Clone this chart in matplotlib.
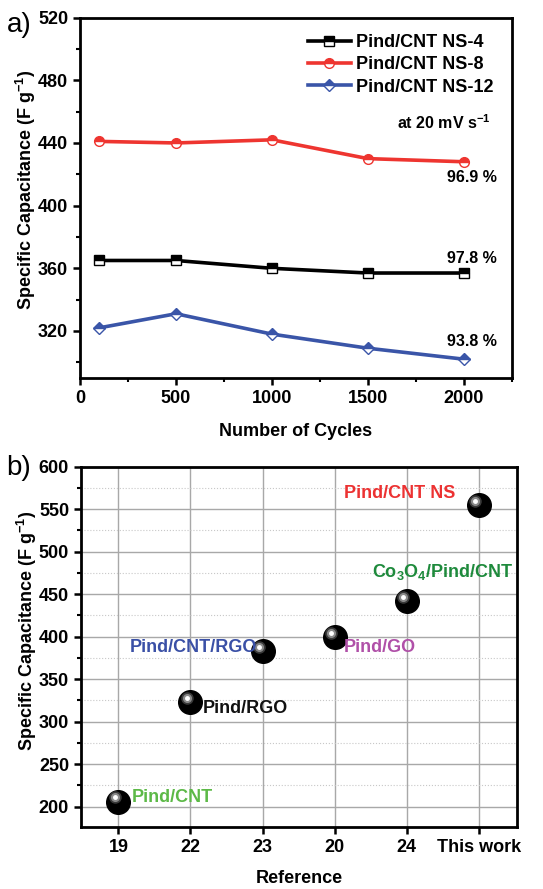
import numpy as np
import matplotlib
matplotlib.use("Agg")
import matplotlib.pyplot as plt
from matplotlib.ticker import MultipleLocator
from matplotlib.transforms import offset_copy

plt.rcParams['font.family'] = ['Liberation Sans', 'DejaVu Sans']
plt.rcParams['font.weight'] = 'bold'
plt.rcParams['mathtext.fontset'] = 'custom'
plt.rcParams['mathtext.rm'] = 'Liberation Sans:bold'
plt.rcParams['mathtext.bf'] = 'Liberation Sans:bold'
plt.rcParams['mathtext.it'] = 'Liberation Sans:bold'
plt.rcParams['mathtext.default'] = 'bf'

# -------------------------------
# Dati pannello a
# -------------------------------
cycles = [100, 500, 1000, 1500, 2000]
ns4 = [365, 365, 360, 357, 357]
ns8 = [441, 440, 442, 430, 428]
ns12 = [322, 331, 318, 309, 302]
retention = ['97.8 %', '96.9 %', '93.8 %']

# -------------------------------
# Dati pannello b
# -------------------------------
refs = ['19', '22', '23', '20', '24', 'This work']
capacitance = [206, 323, 383, 400, 442, 555]
materials = ['Pind/CNT', 'Pind/RGO', 'Pind/CNT/RGO', 'Pind/GO',
             'Co$_3$O$_4$/Pind/CNT', 'Pind/CNT NS']
mat_colors = ['#5cb947', '#111111', '#3a50a6', '#b050a8', '#1e8a3c', '#ec3232']

fig = plt.figure(figsize=(5.43, 8.89), dpi=100)

# --- Pannello a ---
ax1 = fig.add_axes([0.1473, 0.5748, 0.7956, 0.4054])
series = [(ns4, '#000000', 's', 'Pind/CNT NS-4'),
          (ns8, '#ee3530', 'o', 'Pind/CNT NS-8'),
          (ns12, '#3a55a8', 'D', 'Pind/CNT NS-12')]
for vals, col, mk, lab in series:
    ax1.plot(cycles, vals, color=col, lw=2.6, marker=mk, ms=7 if mk != 'D' else 6,
             fillstyle='top', markerfacecolor=col, markerfacecoloralt='white',
             markeredgecolor=col, markeredgewidth=1.0, label=lab)

ax1.text(2040, 366, retention[0], ha='center', va='center', fontsize=11.5)
ax1.text(2040, 418, retention[1], ha='center', va='center', fontsize=11.5)
ax1.text(2040, 313, retention[2], ha='center', va='center', fontsize=11.5)
ax1.text(2140, 453, 'at 20 mV s$^{-1}$', ha='right', va='center', fontsize=11.5)

ax1.set_xlim(0, 2250)
ax1.set_ylim(290, 520)
ax1.xaxis.set_major_locator(MultipleLocator(500))
ax1.xaxis.set_minor_locator(MultipleLocator(250))
ax1.yaxis.set_minor_locator(MultipleLocator(20))
ax1.set_yticks([320, 360, 400, 440, 480, 520])
ax1.set_xlabel('Number of Cycles', fontsize=13, fontweight='bold', labelpad=12)
ax1.set_ylabel('Specific Capacitance (F g$^{-1}$)', fontsize=13, fontweight='bold')
ax1.yaxis.set_label_coords(-0.097, 0.523)
ax1.legend(loc='upper right', frameon=False, fontsize=13, handlelength=2.4,
           handletextpad=0.3, labelspacing=0.3, borderaxespad=0.6,
           bbox_to_anchor=(1.0, 1.005))
fig.text(0.012, 0.972, 'a)', fontsize=20, fontweight='normal', va='center')

# --- Pannello b ---
ax2 = fig.add_axes([0.149, 0.0697, 0.803, 0.4053])
xpos = np.arange(len(refs))
ax2.set_axisbelow(True)
ax2.grid(True, which='major', color='#a8a8a8', lw=1.0, ls='-')
ax2.grid(True, which='minor', axis='y', color='#c8c8c8', lw=0.8, ls=':')

ax2.plot(xpos, capacitance, ls='none', marker='o', ms=17, color='black', zorder=3)
hl = offset_copy(ax2.transData, fig=fig, x=-2.5, y=3.0, units='points')
ax2.plot(xpos, capacitance, ls='none', marker='o', ms=8, color='#3a3a3a', transform=hl, zorder=4)
ax2.plot(xpos, capacitance, ls='none', marker='o', ms=5.5, color='#8a8a8a', transform=hl, zorder=5)
ax2.plot(xpos, capacitance, ls='none', marker='o', ms=2.5, color='white', transform=hl, zorder=6)

label_xy = [(0.75, 211), (1.76, 316), (1.04, 387), (3.63, 387), (4.5, 476), (3.9, 568)]
for (lx, ly), txt, c in zip(label_xy, materials, mat_colors):
    ax2.text(lx, ly, txt, color=c, fontsize=13, ha='center', va='center', zorder=7)

ax2.set_xlim(-0.52, 5.53)
ax2.set_ylim(176, 600)
ax2.set_xticks(xpos)
ax2.set_xticklabels(refs)
ax2.yaxis.set_minor_locator(MultipleLocator(25))
ax2.set_yticks(np.arange(200, 601, 50))
ax2.set_xlabel('Reference', fontsize=13, fontweight='bold', labelpad=10)
ax2.set_ylabel('Specific Capacitance (F g$^{-1}$)', fontsize=13, fontweight='bold')
ax2.yaxis.set_label_coords(-0.096, 0.544)
fig.text(0.012, 0.474, 'b)', fontsize=20, fontweight='normal', va='center')

for ax in (ax1, ax2):
    for s in ax.spines.values():
        s.set_linewidth(2.0)
    ax.tick_params(which='major', direction='out', length=5, width=1.8, labelsize=13,
                   top=False, right=False)
    ax.tick_params(which='minor', direction='out', length=3, width=1.5, top=False, right=False)
    for t in ax.get_xticklabels() + ax.get_yticklabels():
        t.set_fontweight('bold')

fig.savefig('out.png', dpi=100)
